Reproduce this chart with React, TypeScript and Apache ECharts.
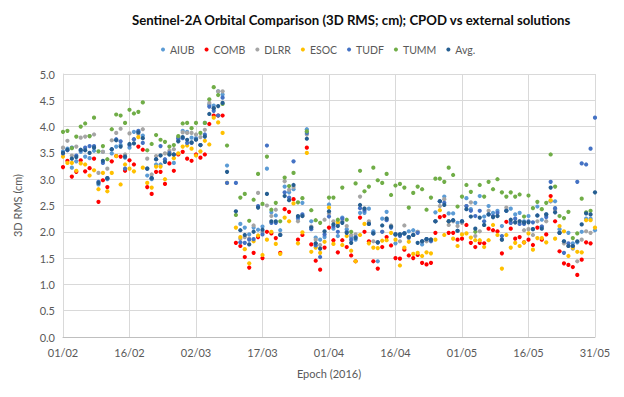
import React, { useEffect, useRef } from 'react';
import * as echarts from 'echarts';

const titleText = 'Sentinel-2A Orbital Comparison (3D RMS; cm); CPOD vs external solutions';
const seriesNames = ['AIUB', 'COMB', 'DLRR', 'ESOC', 'TUDF', 'TUMM', 'Avg.'];
const seriesColors = ['#5B9BD5', '#FF0000', '#A5A5A5', '#FFC000', '#4472C4', '#70AD47', '#255E91'];
const xTickLabels = ['01/02', '16/02', '02/03', '17/03', '01/04', '16/04', '01/05', '16/05', '31/05'];

// one value per day, day 0 = 01/02/2016 ... day 120 = 31/05/2016
const AIUB = [
  3.53, 3.58, 3.22, 3.34, 3.52, 3.43, 3.40, 3.54, 2.90, 3.52,
  3.00, 3.49, 3.62, 3.65, 3.41, 3.60, 3.90, 3.90, 3.83, 3.07,
  3.00, 3.28, 3.28, 3.33, 3.47, 3.31, 3.75, 3.92, 3.90, 3.79,
  3.78, 3.65, 4.07, 4.42, 4.40, 4.67, 4.61, 3.26, null, null,
  2.15, 2.08, 1.95, 2.08, 2.04, 2.10, 3.20, 2.37, 2.31, 2.03,
  2.86, 2.75, 2.81, 2.25, 2.55, 3.95, 2.20, 1.89, 1.85, 1.90,
  2.52, 2.06, 1.92, 2.27, 2.05, 1.90, 1.85, 2.36, 2.36, 2.44,
  2.01, 1.44, 2.25, 2.38, 2.10, 1.78, 1.95, 1.97, 2.01, 2.03,
  2.00, 1.76, 1.86, 1.85, 2.37, 2.58, 2.67, 2.35, 2.35, 2.17,
  2.20, 2.64, 2.43, 2.55, 2.68, 2.29, 2.49, 2.36, 2.40, 2.11,
  2.40, 2.44, 2.33, 2.36, 2.20, 2.30, 2.05, 2.48, 2.23, 2.33,
  2.58, 2.58, 2.05, 1.82, 1.98, 1.78, 1.80, 2.00, 2.25, 2.25, 2.03,
];
const COMB = [
  3.23, 3.35, 3.05, 3.14, 3.36, 3.15, 3.21, 3.39, 2.57, 2.98,
  2.85, 3.34, 3.44, 3.43, 3.16, 3.36, 3.28, 3.62, 3.56, 2.85,
  2.72, 3.14, 3.14, 2.91, 3.30, 3.16, 3.47, 3.52, 3.39, 3.35,
  3.47, 3.41, 3.47, 4.05, 4.21, 4.21, 4.21, null, null, 1.79,
  1.73, 1.52, 1.32, 1.60, 1.90, 1.50, 2.00, 1.97, 1.88, 1.60,
  2.43, 2.38, 2.62, 1.85, 1.94, 3.60, 1.76, 1.45, 1.28, 1.70,
  2.08, 1.84, 1.61, 1.84, 1.71, 1.55, 1.44, 2.27, 2.00, 1.82,
  1.44, 1.30, 1.71, 1.90, 1.74, 1.50, 1.49, 1.66, 1.55, 1.50,
  1.56, 1.41, 1.38, 1.41, 1.98, 2.28, 2.30, 1.98, 1.98, 1.85,
  1.87, 2.13, 1.79, 1.71, 1.79, 1.78, 2.06, 2.03, 2.01, 1.59,
  2.19, 2.06, 1.87, 1.90, 1.80, 1.85, 1.75, 2.08, 1.85, 1.95,
  2.68, 2.20, 1.63, 1.40, 1.37, 1.33, 1.18, 1.47, 1.80, 1.78, null,
];
const DLRR = [
  3.60, 3.73, 3.45, 3.62, 3.79, 3.81, 3.82, 3.85, 3.12, 3.52,
  3.20, 3.74, 3.88, 3.96, 3.47, 3.87, 3.76, 3.86, 3.95, 3.39,
  3.09, 3.44, 3.46, 3.49, 3.54, 3.57, 3.80, 3.89, 3.88, 3.88,
  3.85, 3.80, 3.94, 4.45, 4.35, 4.67, 4.67, null, null, null,
  1.87, 1.90, 1.87, 2.12, 2.74, 2.00, 2.50, 2.30, 2.42, 1.95,
  2.96, 2.80, 2.85, 2.20, 2.30, 3.85, 2.10, 1.85, 1.75, 2.23,
  2.35, 2.20, 2.15, 2.20, 2.11, 1.94, 1.95, 2.67, 2.44, 2.20,
  1.82, 1.80, 2.00, 2.25, 2.12, 1.95, 1.82, 2.12, 1.88, 1.94,
  2.00, 1.82, 1.82, 1.85, 2.20, 2.49, 2.62, 2.13, 2.20, 2.11,
  2.17, 2.49, 2.56, 1.92, 2.01, 2.13, 2.40, 2.28, 2.30, 1.85,
  2.46, 2.17, 2.18, 2.20, 2.03, 2.05, 1.94, 2.20, 2.10, 2.20,
  2.58, 2.42, 1.98, 1.78, 1.73, 1.68, 1.44, 1.85, 2.01, 1.98, null,
];
const ESOC = [
  3.43, 3.31, 3.31, 3.16, 3.30, 3.28, 3.07, 3.17, 2.81, 3.12,
  2.77, 3.12, 3.44, 2.90, 3.28, 3.20, 3.15, 3.80, 3.22, 2.93,
  2.84, 3.24, 3.24, 3.00, 3.49, 3.40, 3.49, 3.62, 3.64, 3.58,
  3.45, 3.53, 3.73, 3.66, 4.17, 4.08, 3.88, 2.93, null, 2.08,
  1.90, 1.67, 1.40, 1.82, 1.93, 1.56, 1.85, 2.00, 1.77, 1.58,
  2.27, 2.20, 2.54, 1.78, 1.99, 3.50, 1.62, 1.70, 1.60, 1.81,
  2.46, 1.77, 2.18, 1.75, 1.92, 1.64, 1.44, 1.94, 2.15, 1.78,
  1.70, 1.69, 1.83, 1.84, 1.98, 1.85, 1.36, 1.70, 1.81, 1.58,
  1.60, 1.54, 1.61, 1.59, 1.85, 2.41, 1.94, 2.20, 1.87, 1.73,
  1.95, 1.97, 1.89, 1.84, 1.84, 1.71, 1.84, 2.13, 1.94, 1.30,
  1.94, 1.70, 1.79, 1.73, 1.80, 1.97, 1.66, 1.88, 1.88, 1.80,
  2.60, 1.87, 2.11, 2.01, 1.54, 1.70, 1.62, 1.61, 2.22, 2.22, 2.08,
];
const TUDF = [
  3.49, 3.55, 3.60, 3.45, 3.55, 3.60, 3.63, 3.63, 2.95, 3.31,
  3.02, 3.57, 3.76, 3.72, 3.20, 3.65, 3.76, 3.92, 3.69, 3.20,
  3.02, 3.38, 3.63, 3.38, 3.50, 3.47, 3.78, 3.78, 3.69, 3.69,
  3.76, 3.65, 3.85, 4.38, 4.30, 4.21, 4.55, 2.93, null, 2.93,
  1.80, 1.79, 1.85, 1.86, 2.49, 1.95, 3.64, 2.17, 2.17, 1.94,
  2.75, 2.65, 3.34, 2.28, 2.33, 3.88, 2.05, 1.74, 1.52, 1.95,
  2.29, 2.10, 2.00, 2.25, 2.00, 1.85, 1.90, 2.45, 2.40, 2.15,
  1.97, 1.80, 2.00, 2.22, 2.08, 1.95, 1.92, 1.97, 1.90, 1.94,
  1.98, 1.82, 1.86, 1.82, 2.20, 2.58, 2.55, 2.20, 2.22, 2.02,
  2.20, 2.49, 2.40, 2.30, 2.40, 2.20, 2.33, 2.30, 2.36, 1.92,
  2.40, 2.17, 2.25, 2.15, 2.15, 2.20, 2.18, 2.31, 2.10, 2.28,
  2.95, 2.45, 1.98, 1.60, 1.78, 1.73, 2.95, 3.30, 3.28, 3.58, 4.17,
];
const TUMM = [
  3.90, 3.92, 3.59, 3.81, 4.00, 4.06, 3.82, 4.17, 3.53, 3.63,
  3.38, 3.95, 4.23, 4.21, 4.07, 4.32, 4.25, 4.28, 4.46, 3.55,
  3.67, 3.84, 3.75, 3.71, 3.62, 3.65, 3.82, 4.06, 4.07, 3.97,
  4.07, 3.88, 4.07, 4.52, 4.75, 4.60, 4.43, 3.64, null, 2.32,
  2.65, 2.72, 2.21, 2.61, 3.10, 2.53, 3.43, 2.42, 2.55, 2.20,
  3.03, 2.87, 3.12, 2.56, 2.64, 3.91, 2.41, 2.22, 2.17, null,
  2.65, 2.65, 2.23, 2.84, 2.23, 2.00, 2.92, 3.16, 2.77, 2.86,
  3.22, 2.98, 2.93, 3.10, 2.70, 2.88, 2.91, 2.84, 2.46, 2.74,
  2.86, 2.81, 2.42, 2.65, 3.01, 3.01, 2.95, 3.22, 3.08, 2.48,
  2.67, 2.89, 2.76, 2.00, 2.89, 2.67, 2.95, 2.81, 3.00, 2.75,
  2.67, 2.75, 2.67, 2.71, 2.29, 2.69, 2.45, 2.57, 2.43, 2.55,
  3.47, 2.86, 2.30, 2.26, 2.38, 1.88, 1.97, 2.63, 2.37, 2.40, null,
];
const AVG = [
  3.50, 3.56, 3.39, 3.42, 3.56, 3.55, 3.50, 3.60, 2.93, 3.35,
  3.02, 3.57, 3.74, 3.62, 3.43, 3.67, 3.68, 3.89, 3.78, 3.20,
  3.02, 3.38, 3.45, 3.33, 3.47, 3.47, 3.72, 3.80, 3.75, 3.70,
  3.75, 3.65, 3.81, 4.24, 4.35, 4.39, 4.45, 3.14, null, 2.39,
  2.03, 1.94, 1.76, 2.00, 2.46, 2.04, 2.72, 2.20, 2.20, 1.94,
  2.68, 2.60, 2.89, 2.30, 2.30, 3.77, 2.08, 1.78, 1.68, 2.01,
  2.39, 2.14, 2.11, 2.17, 1.98, 1.79, 1.88, 2.51, 2.44, 2.15,
  1.97, 1.80, 2.12, 2.25, 2.10, 1.95, 1.95, 1.97, 1.90, 1.94,
  1.79, 1.82, 1.86, 1.85, 2.20, 2.58, 2.51, 2.20, 2.22, 2.02,
  2.20, 2.43, 2.29, 2.06, 2.27, 2.13, 2.33, 2.28, 2.30, 1.85,
  2.40, 2.23, 2.18, 2.20, 2.18, 2.18, 2.05, 2.31, 2.06, 2.33,
  2.84, 2.37, 1.98, 1.82, 1.73, 1.73, 1.82, 2.14, 2.35, 2.33, 2.75,
];

const seriesValues = [AIUB, COMB, DLRR, ESOC, TUDF, TUMM, AVG];
const FONT = 'Lato, "Open Sans", sans-serif';

export default function App() {
  const ref = useRef<HTMLDivElement>(null);
  useEffect(() => {
    if (!ref.current) return;
    const chart = echarts.init(ref.current, undefined, { renderer: 'svg' });
    chart.setOption({
      animation: false,
      backgroundColor: '#ffffff',
      textStyle: { fontFamily: FONT },
      title: {
        text: titleText,
        left: 127,
        top: 8,
        textStyle: { fontFamily: FONT, fontWeight: 'bold', fontSize: 13.2, color: '#0d0d0d' },
      },
      legend: {
        top: 39,
        left: 156,
        icon: 'circle',
        itemWidth: 4,
        itemHeight: 4,
        itemGap: 10,
        data: seriesNames,
        textStyle: { fontFamily: FONT, color: '#595959', fontSize: 10.5 },
      },
      grid: { left: 63, right: 29, top: 74, bottom: 60 },
      xAxis: {
        type: 'value',
        min: 0,
        max: 120,
        interval: 15,
        name: 'Epoch (2016)',
        nameLocation: 'middle',
        nameGap: 31,
        nameTextStyle: { fontFamily: FONT, color: '#595959', fontSize: 11 },
        axisLine: { show: true, lineStyle: { color: '#BFBFBF' } },
        axisTick: { show: false },
        splitLine: { show: true, lineStyle: { color: '#D9D9D9' } },
        axisLabel: {
          color: '#595959',
          fontSize: 11,
          margin: 10,
          fontFamily: FONT,
          formatter: (v: number) => xTickLabels[Math.round(v / 15)] ?? '',
        },
      },
      yAxis: {
        type: 'value',
        min: 0,
        max: 5,
        interval: 0.5,
        name: '3D RMS (cm)',
        nameLocation: 'middle',
        nameGap: 40,
        nameTextStyle: { fontFamily: FONT, color: '#595959', fontSize: 11 },
        axisLine: { show: true, lineStyle: { color: '#D9D9D9' } },
        axisTick: { show: false },
        splitLine: { show: true, lineStyle: { color: '#D9D9D9' } },
        axisLabel: {
          color: '#595959',
          fontSize: 11,
          margin: 8,
          fontFamily: FONT,
          formatter: (v: number) => v.toFixed(1),
        },
      },
      series: seriesNames.map((name, i) => ({
        type: 'scatter',
        name,
        symbol: 'circle',
        symbolSize: 4.2,
        itemStyle: { color: seriesColors[i], opacity: 1 },
        data: seriesValues[i].map((v, d) => (v === null ? [d, '-'] : [d, v])),
      })),
    });
    return () => chart.dispose();
  }, []);
  return (
    <div
      ref={ref}
      style={{ position: 'absolute', left: 0, top: 0, width: 624, height: 397 }}
    />
  );
}
